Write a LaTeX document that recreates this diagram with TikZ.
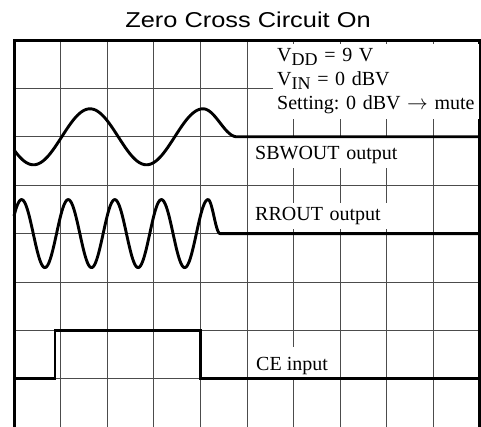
\documentclass[tikz,border=0pt]{standalone}
\usepackage{fontspec}
\setmainfont{Liberation Serif}
\newfontfamily\titlefont[FakeStretch=1.18]{Liberation Sans}
\newcommand\lowsub[1]{\raisebox{-4pt}{\fontsize{18}{20}\selectfont #1}}
\frenchspacing
\begin{document}
\begin{tikzpicture}[x=1pt,y=-1pt,
  gridline/.style={black!70, line width=0.9pt},
  frame/.style={black, line width=2.8pt},
  wave/.style={black, line width=2.9pt, line join=round},
  lbl/.style={fill=white, anchor=base west, inner xsep=5pt, inner ysep=3pt,
    text height=15pt, text depth=5pt, font=\fontsize{20}{24}\selectfont},
]
\useasboundingbox (0,0) rectangle (481,427);
% grid
\foreach \i in {1,...,9} \draw[gridline] ({14+\i*46.6},40) -- ({14+\i*46.6},432);
\foreach \j in {1,...,7} \draw[gridline] (14,{40+\j*48.4}) -- (480,{40+\j*48.4});
% frame
\draw[frame] (14.2,432) -- (14.2,40.5) -- (479.5,40.5) -- (479.5,432);
% title
\node[font=\titlefont\fontsize{21.5}{25}\selectfont, anchor=base] (title) at (248,28) {Zero Cross Circuit On};
% info box
\node[fill=white, anchor=north west, text width=198pt, inner xsep=4pt, inner ysep=4.5pt,
  align=left, font=\fontsize{20}{24}\selectfont\frenchspacing] (info) at (273,44)
  {V\lowsub{DD} = 9 V\\
   V\lowsub{IN} = 0 dBV\\
   Setting: 0 dBV $\rightarrow$ mute};
% labels
\node[lbl, text width=150pt, align=left, text height=19pt] (sbw) at (250,160) {SBWOUT output};
\node[lbl, text width=150pt, align=left] (rr) at (250,221) {RROUT output};
\node[lbl, text height=20pt] (ce) at (251,370) {CE input};
% SBWOUT wave
\draw[wave] plot[domain=14:203, samples=120, smooth] (\x, {136.8-28*cos(3.18584*(\x-203))})
  -- plot[domain=203:237, samples=30, smooth] (\x, {136.8-14*(1+cos(5.29412*(\x-203)))})
  -- (479.5,136.8);
% RROUT wave
\draw[wave] plot[domain=14:208, samples=220, smooth] (\x, {233.6-34*cos(7.72532*(\x-208))})
  -- plot[domain=208:220, samples=15, smooth] (\x, {233.6-17*(1+cos(15*(\x-208)))})
  -- (479.5,233.6);
% CE input
\draw[wave, line join=miter] (14,378.8) -- (55,378.8) -- (55,330.4) -- (200.4,330.4) -- (200.4,378.8) -- (479.5,378.8);
\end{tikzpicture}
\end{document}
